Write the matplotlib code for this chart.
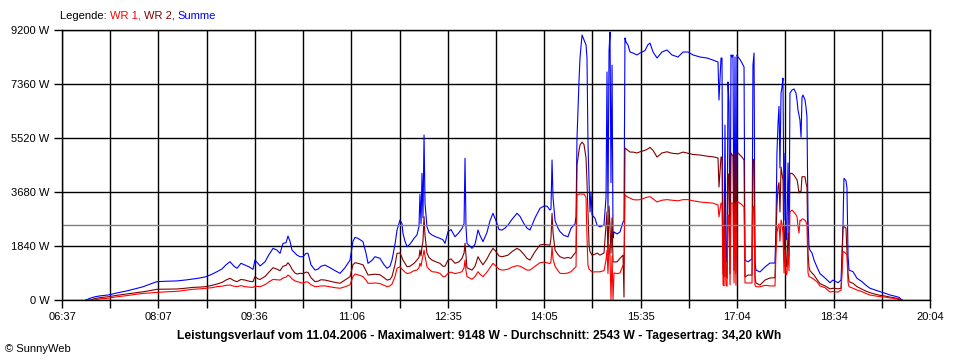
import matplotlib.pyplot as plt
import numpy as np

plt.rcParams['font.family'] = ['Liberation Sans', 'DejaVu Sans']

# time of day in minutes after midnight
minutes = [
    419.3, 423.0, 427.7, 432.3, 439.8, 448.1, 457.4, 464.9, 472.3, 478.8,
    485.3, 494.6, 503.9, 511.4, 518.8, 525.3, 530.9, 536.5, 541.1, 545.8,
    549.5, 553.2, 556.9, 559.7, 563.4, 567.1, 570.9, 574.6, 576.4, 579.2,
    581.1, 585.7, 589.5, 593.2, 596.9, 599.7, 602.5, 605.3, 607.1, 609.0,
    610.8, 613.6, 615.5, 618.3, 621.1, 623.9, 625.7, 628.5, 632.2, 635.0,
    637.8, 641.5, 646.2, 650.8, 655.5, 660.1, 664.8, 667.5, 669.4, 672.2,
    676.8, 679.6, 681.5, 685.2, 688.0, 692.6, 696.4, 699.2, 701.9, 703.8,
    706.6, 708.5, 711.2, 713.1, 714.0, 715.9, 717.8, 720.5, 724.3, 727.0,
    728.9, 729.8, 730.8, 731.7, 732.6, 733.6, 734.5, 736.3, 738.2, 741.0,
    744.7, 748.4, 751.2, 753.1, 755.9, 758.7, 762.4, 766.1, 768.9, 770.8,
    771.7, 772.6, 773.5, 778.2, 781.0, 783.8, 785.6, 788.4, 792.1, 794.9,
    797.7, 800.5, 803.3, 806.1, 808.9, 811.7, 815.4, 820.0, 822.8, 826.5,
    829.3, 832.1, 836.8, 841.4, 845.1, 847.9, 850.7, 851.6, 852.6, 853.5,
    855.4, 858.1, 860.0, 863.7, 867.4, 870.2, 874.0, 874.9, 875.8, 877.7,
    878.6, 880.5, 882.3, 884.2, 885.1, 886.0, 887.0, 887.9, 888.8, 889.8,
    892.5, 894.4, 897.2, 900.9, 902.8, 903.7, 904.6, 905.6, 906.5, 907.4,
    908.4, 909.3, 910.2, 913.0, 915.8, 918.6, 919.5, 920.4, 921.4, 923.2,
    925.1, 927.9, 931.6, 934.4, 939.0, 941.8, 943.7, 946.5, 950.2, 954.8,
    959.5, 964.1, 969.7, 974.4, 979.0, 983.7, 990.2, 996.7, 1002.3, 1006.9,
    1007.8, 1009.7, 1010.6, 1011.6, 1012.5, 1013.4, 1014.3, 1015.3, 1016.2, 1017.1,
    1018.1, 1019.0, 1019.9, 1020.8, 1021.8, 1022.7, 1023.6, 1024.6, 1025.5, 1027.3,
    1029.2, 1031.1, 1032.0, 1034.8, 1038.5, 1039.4, 1040.4, 1041.3, 1042.2, 1045.9,
    1050.6, 1055.2, 1059.9, 1060.8, 1061.7, 1062.7, 1063.6, 1064.5, 1065.5, 1066.4,
    1067.3, 1068.3, 1069.2, 1070.1, 1071.0, 1072.0, 1072.9, 1073.8, 1075.7, 1077.6,
    1079.4, 1080.4, 1081.3, 1082.2, 1083.1, 1084.1, 1085.0, 1085.9, 1087.8, 1088.7,
    1089.6, 1090.6, 1091.5, 1092.4, 1094.3, 1096.2, 1098.9, 1101.7, 1106.4, 1111.0,
    1113.8, 1118.5, 1121.3, 1122.2, 1123.1, 1124.0, 1125.9, 1126.8, 1127.8, 1128.7,
    1132.4, 1136.1, 1140.8, 1144.5, 1148.2, 1152.9, 1157.5, 1162.2, 1166.8, 1171.5,
    1175.2, 1178.0,
]

# Summe (blue)
summe = [
    0, 60, 110, 140, 170, 240, 310, 380, 450, 540,
    625, 640, 650, 680, 715, 750, 795, 880, 965, 1060,
    1200, 1305, 1150, 1080, 1250, 1190, 1130, 1045, 1360, 1250,
    1160, 1300, 1550, 1760, 1700, 1590, 1930, 1950, 2180, 2000,
    1700, 1600, 1530, 1475, 1475, 1590, 1590, 1200, 1020, 1050,
    1150, 1190, 1100, 1000, 910, 1100, 1360, 2000, 2135, 2100,
    1990, 1600, 1250, 1350, 1475, 1420, 1200, 1080, 1150, 1360,
    1900, 2385, 2725, 2600, 2270, 2000, 1815, 1900, 2100, 2215,
    2500, 3600, 2600, 4315, 2800, 5620, 3300, 2500, 2300, 2215,
    2150, 2100, 2050, 1930, 2330, 2400, 2155, 2300, 2440, 2600,
    4830, 2500, 1930, 1760, 1900, 2385, 2200, 1990, 2300, 2700,
    2955, 2700, 2400, 2385, 2450, 2555, 2750, 2955, 2850, 2600,
    2450, 2385, 2800, 3125, 3200, 3200, 3065, 3100, 4770, 3500,
    2700, 2450, 2330, 2200, 2155, 2440, 2600, 2840, 5500, 7500,
    8245, 9030, 8860, 8690, 8245, 5380, 4020, 3000, 3680, 2900,
    2790, 2555, 2490, 2555, 3500, 7770, 3000, 8500, 9130, 4000,
    8000, 2110, 2320, 2250, 2320, 2660, 2700, 8930, 8790, 8690,
    8450, 8415, 8350, 8415, 8500, 8700, 8755, 8450, 8245, 8450,
    8520, 8350, 8280, 8450, 8450, 8350, 8280, 8245, 8175, 8110,
    6815, 8245, 8245, 1430, 1300, 5960, 1360, 1300, 7430, 6710,
    1430, 8350, 8280, 8350, 1600, 8280, 1400, 8350, 8280, 8200,
    8075, 7940, 1360, 1300, 1400, 8000, 8415, 1300, 1020, 955,
    1125, 1260, 1260, 2500, 5010, 6000, 6600, 4500, 7050, 7260,
    7560, 2725, 5000, 2045, 2300, 4670, 2045, 7050, 7155, 7190,
    7050, 6800, 6470, 6300, 6130, 5550, 6900, 6985, 6815, 6575,
    6235, 2725, 1810, 1700, 1600, 1360, 1125, 900, 750, 590,
    680, 590, 680, 1600, 2500, 4145, 4065, 3815, 1500, 1020,
    965, 740, 625, 500, 400, 340, 285, 230, 170, 130,
    90, 0,
]

# WR 2 (dark red)
wr2 = [
    0, 0, 50, 80, 110, 160, 205, 240, 280, 320,
    365, 370, 375, 400, 430, 440, 455, 500, 545, 600,
    680, 740, 660, 625, 700, 680, 640, 625, 800, 720,
    700, 800, 950, 1100, 1050, 1000, 1150, 1180, 1270, 1180,
    1050, 920, 885, 910, 900, 950, 940, 760, 625, 640,
    690, 680, 640, 600, 570, 680, 795, 1200, 1270, 1250,
    1200, 1000, 850, 870, 880, 860, 760, 680, 700, 800,
    1200, 1590, 1600, 1450, 1360, 1250, 1135, 1150, 1250, 1360,
    1450, 1700, 1500, 1815, 2000, 2840, 2200, 1600, 1450, 1360,
    1300, 1250, 1150, 1150, 1360, 1400, 1250, 1300, 1420, 1600,
    1930, 1500, 1100, 1020, 1150, 1475, 1350, 1200, 1400, 1600,
    1760, 1650, 1500, 1475, 1500, 1530, 1650, 1760, 1700, 1550,
    1420, 1360, 1650, 1875, 1900, 1880, 1870, 2100, 2955, 2300,
    1700, 1550, 1475, 1420, 1450, 1420, 1600, 1635, 4600, 5100,
    5280, 5380, 5300, 4840, 4020, 3000, 1875, 1635, 1600, 1530,
    1560, 1600, 1530, 1600, 2555, 3000, 1500, 3200, 2500, 1600,
    2800, 1295, 1295, 1300, 1420, 1530, 100, 5180, 5150, 5100,
    5040, 5040, 5010, 5050, 5100, 5150, 5200, 5100, 4870, 5010,
    5050, 5000, 4980, 5040, 5000, 4960, 4940, 4900, 4880, 4840,
    3850, 4870, 4870, 900, 800, 3500, 800, 750, 4300, 4200,
    900, 5010, 4950, 4900, 1000, 5000, 900, 5010, 5010, 4940,
    4870, 4770, 785, 850, 850, 4770, 4800, 785, 580, 510,
    680, 750, 760, 2150, 3200, 3850, 4000, 3000, 4530, 4300,
    4090, 1360, 2500, 1125, 1300, 2280, 1500, 4315, 4315, 4250,
    4150, 4090, 3900, 3645, 3700, 3700, 4200, 4200, 4200, 3985,
    3850, 1600, 1125, 1000, 920, 850, 700, 560, 480, 380,
    400, 380, 400, 1200, 2500, 2500, 2450, 1645, 900, 625,
    570, 455, 370, 300, 250, 200, 160, 135, 100, 70,
    40, 0,
]

# WR 1 (red)
wr1 = [
    0, 0, 0, 40, 60, 110, 150, 190, 225, 240,
    260, 280, 295, 330, 365, 380, 400, 420, 455, 470,
    500, 510, 470, 455, 490, 455, 440, 430, 470, 460,
    455, 520, 620, 700, 690, 680, 750, 780, 850, 800,
    720, 650, 625, 600, 570, 620, 610, 520, 455, 460,
    480, 480, 450, 420, 400, 450, 520, 800, 885, 860,
    800, 680, 570, 570, 580, 560, 500, 455, 480, 540,
    800, 1080, 1135, 1050, 1020, 950, 900, 920, 1000, 1020,
    1100, 1250, 1150, 1360, 1500, 1700, 1500, 1135, 1050, 965,
    950, 910, 800, 795, 910, 950, 900, 930, 965, 1100,
    1360, 1000, 800, 705, 800, 965, 880, 795, 950, 1100,
    1250, 1150, 1050, 1020, 1030, 1050, 1120, 1170, 1150, 1080,
    1020, 1020, 1150, 1270, 1290, 1270, 1240, 1300, 1815, 1400,
    1150, 1000, 910, 900, 920, 965, 1100, 1135, 3580, 3610,
    3610, 3610, 3610, 3500, 2110, 1190, 1050, 1020, 1000, 955,
    960, 960, 960, 1000, 1360, 1700, 900, 1900, 1500, 0,
    1500, 0, 920, 900, 920, 1190, 1190, 3580, 3550, 3500,
    3475, 3420, 3410, 3420, 3480, 3510, 3520, 3450, 3340, 3400,
    3420, 3400, 3380, 3420, 3420, 3380, 3340, 3320, 3300, 3240,
    2830, 3300, 3300, 520, 480, 2490, 500, 470, 2900, 2800,
    520, 3300, 3300, 3300, 580, 3300, 500, 3340, 3340, 3300,
    3240, 3170, 580, 580, 580, 3170, 3200, 500, 450, 450,
    500, 480, 480, 1600, 2300, 2490, 2600, 2000, 2725, 2600,
    2280, 920, 1700, 850, 900, 1600, 1000, 3000, 3065, 2990,
    2900, 2830, 2500, 2280, 2720, 2700, 2760, 2760, 2720, 2660,
    2555, 920, 800, 785, 750, 700, 620, 480, 420, 270,
    290, 270, 340, 900, 1645, 1645, 1580, 1530, 600, 455,
    400, 340, 285, 220, 170, 140, 115, 100, 70, 50,
    20, 0,
]

x_labels = ["06:37", "08:07", "09:36", "11:06", "12:35",
            "14:05", "15:35", "17:04", "18:34", "20:04"]
start_min, end_min = 397, 1204
y_max = 9200
y_step = 1840
average = 2543

title = ("Leistungsverlauf vom 11.04.2006 - Maximalwert: 9148 W - "
         "Durchschnitt: 2543 W - Tagesertrag: 34,20 kWh")

fig = plt.figure(figsize=(9.6, 3.6), dpi=100)
ax = fig.add_axes([62 / 960, 60 / 360, 868 / 960, 270 / 360])

ax.plot(minutes, summe, color='#0000ff', lw=0.8)
ax.plot(minutes, wr2, color='#800000', lw=0.8)
ax.plot(minutes, wr1, color='#ff0000', lw=0.8)
ax.axhline(average, color='#808080', lw=1)

ax.set_xlim(start_min, end_min)
ax.set_ylim(0, y_max)
ax.set_xticks(np.linspace(start_min, end_min, len(x_labels)))
ax.set_xticklabels(x_labels)
ax.set_xticks(np.linspace(start_min, end_min, 2 * len(x_labels) - 1), minor=True)
yt = np.arange(0, y_max + 1, y_step)
ax.set_yticks(yt)
ax.set_yticklabels([f"{v} W" for v in yt])

ax.set_axisbelow(True)
ax.grid(True, which='both', color='black', lw=1)
ax.tick_params(which='both', direction='out', length=6, width=1,
               labelsize=8, pad=3, color='black')
for s in ax.spines.values():
    s.set_color('black')
    s.set_linewidth(1)

# legend line at the top
t = fig.text(60 / 960, 1 - 16 / 360, "Legende: ", fontsize=8, va='center')
for txt, col in [("WR 1, ", '#ff0000'), ("WR 2, ", '#800000'), ("Summe", '#0000ff')]:
    t = ax.annotate(txt, xy=(1, 0), xycoords=t, va='bottom', ha='left',
                    fontsize=8, color=col, annotation_clip=False)

fig.text(479 / 960, 1 - 336 / 360, title, fontsize=8.7, fontweight='bold',
         ha='center', va='center')
fig.text(5 / 960, 1 - 349 / 360, "\u00a9 SunnyWeb", fontsize=8, va='center')

fig.savefig('out.png', dpi=100)
